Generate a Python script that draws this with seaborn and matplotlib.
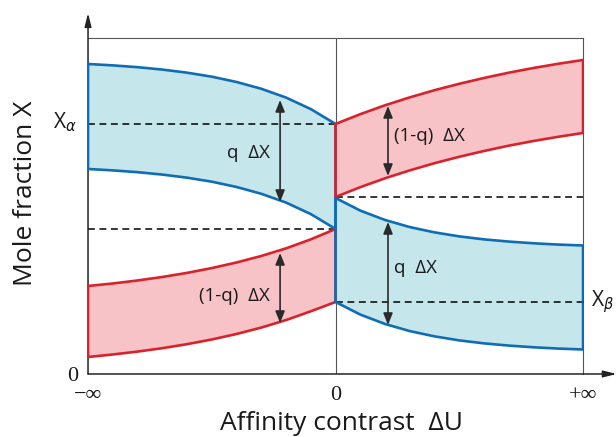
"""
Schematic of the two-phase mole fraction bands versus affinity contrast.
"""

import matplotlib
matplotlib.use("Agg")
import matplotlib.pyplot as plt
import numpy as np
import seaborn as sns

# --- data (y in arbitrary units, 0 at the axis) ---
x_left = [-1.0, -0.9, -0.8, -0.7, -0.6, -0.5, -0.4, -0.3, -0.2, -0.1, 0.0]
x_right = [0.0, 0.1, 0.2, 0.3, 0.4, 0.5, 0.6, 0.7, 0.8, 0.9, 1.0]

left_blue_top = [310, 308.6, 306.8, 304.4, 301.3, 297.3, 292.0, 285.2, 276.4, 264.9, 250]
left_blue_bottom = [205, 203.6, 201.8, 199.4, 196.3, 192.3, 187.0, 180.2, 171.4, 159.9, 145]
left_red_top = [88, 90.5, 93.5, 97.0, 101.1, 105.9, 111.5, 118.0, 125.6, 134.6, 145]
left_red_bottom = [17, 19.5, 22.4, 25.8, 29.8, 34.5, 40.0, 46.4, 53.9, 62.7, 72]

right_red_top = [250, 259.8, 268.7, 276.6, 283.8, 290.2, 296.0, 301.3, 306.0, 310.2, 314]
right_red_bottom = [177, 186.8, 195.7, 203.6, 210.8, 217.2, 223.0, 228.3, 233.0, 237.2, 241]
right_blue_top = [176, 163.4, 154.0, 146.9, 141.6, 137.6, 134.6, 132.4, 130.7, 129.4, 128.5]
right_blue_bottom = [72, 59.4, 50.0, 42.9, 37.6, 33.6, 30.6, 28.4, 26.7, 25.4, 24.5]

x_alpha = 250
x_beta = 72
left_mid = 145
right_mid = 177

# arrows: (x, y_from, y_to, label, side, label_y)
arrows = [
    (-0.224, 274, 172, "q  \u0394X", "left", 221),
    (-0.224, 121, 51, "(1-q)  \u0394X", "left", 78),
    (0.212, 268, 198, "(1-q)  \u0394X", "right", 238),
    (0.212, 152, 49, "q  \u0394X", "right", 106),
]

xtick_pos = [-1, 0, 1]
xtick_labels = ["\u2212\u221e", "0", "+\u221e"]

BLUE_EDGE = "#0f6db5"
BLUE_FILL = "#c5e6eb"
RED_EDGE = "#d8232c"
RED_FILL = "#f8c3c6"
SANS = ["Open Sans", "DejaVu Sans"]
SERIF = ["Liberation Serif", "DejaVu Serif"]

sns.set_theme(style="white")
plt.rcParams["font.family"] = SANS

fig = plt.figure(figsize=(6.16, 4.37), dpi=100)
ax = fig.add_axes([0.1429, 0.1442, 0.8036, 0.7689])
ax.set_xlim(-1, 1)
ax.set_ylim(0, 336)


def draw_band(x, top, bottom, edge, fill):
    x = np.asarray(x, dtype=float)
    xs = np.concatenate([x, x[::-1], x[:1]])
    ys = np.concatenate([top, bottom[::-1], top[:1]])
    ax.fill(xs, ys, color=fill, lw=0, zorder=2)
    sns.lineplot(x=xs, y=ys, sort=False, estimator=None, ax=ax, color=edge,
                 lw=1.9, zorder=4, solid_joinstyle="miter")


ax.axvline(0, color="#555555", lw=0.8, zorder=1)

draw_band(x_left, left_blue_top, left_blue_bottom, BLUE_EDGE, BLUE_FILL)
draw_band(x_left, left_red_top, left_red_bottom, RED_EDGE, RED_FILL)
draw_band(x_right, right_red_top, right_red_bottom, RED_EDGE, RED_FILL)
draw_band(x_right, right_blue_top, right_blue_bottom, BLUE_EDGE, BLUE_FILL)

dash = (0, (4.5, 3))
ax.plot([-1, 0], [x_alpha, x_alpha], color="black", lw=1.1, ls=dash, zorder=3)
ax.plot([-1, 0], [left_mid, left_mid], color="black", lw=1.1, ls=dash, zorder=3)
ax.plot([0, 1], [right_mid, right_mid], color="black", lw=1.1, ls=dash, zorder=3)
ax.plot([0, 1.016], [x_beta, x_beta], color="black", lw=1.1, ls=dash,
        zorder=3, clip_on=False)

for x, y0, y1, label, side, ty in arrows:
    ax.annotate("", xy=(x, y1), xytext=(x, y0),
                arrowprops=dict(arrowstyle="<|-|>,head_length=0.35,head_width=0.14",
                                mutation_scale=20, color="#2a2a2a", lw=1.2,
                                shrinkA=0, shrinkB=0), zorder=5)
    if side == "left":
        ax.text(x - 0.041, ty, label, ha="right", va="center", fontsize=13.5,
                color="#1a1a1a", zorder=6)
    else:
        ax.text(x + 0.024, ty, label, ha="left", va="center", fontsize=13.5,
                color="#1a1a1a", zorder=6)

ax.text(-1.044, x_alpha + 2, r"X$_{\alpha}$", ha="right", va="center",
        fontsize=15, color="#1a1a1a")
ax.text(1.032, x_beta, r"X$_{\beta}$", ha="left", va="center",
        fontsize=15, color="#1a1a1a")

# frame: thin grey top/right, arrowed left/bottom axes
for side in ["top", "right"]:
    ax.spines[side].set_color("#555555")
    ax.spines[side].set_linewidth(0.8)
for side in ["left", "bottom"]:
    ax.spines[side].set_visible(False)

arrow_style = dict(arrowstyle="-|>,head_length=0.4,head_width=0.1",
                   mutation_scale=20, color="#222222", lw=1.1,
                   shrinkA=0, shrinkB=0)
ax.annotate("", xy=(0, 1.074), xytext=(0, 0), xycoords="axes fraction",
            textcoords="axes fraction", arrowprops=arrow_style,
            annotation_clip=False)
ax.annotate("", xy=(1.068, 0), xytext=(0, 0), xycoords="axes fraction",
            textcoords="axes fraction", arrowprops=arrow_style,
            annotation_clip=False)

ax.set_xticks(xtick_pos)
ax.set_xticklabels(xtick_labels, fontsize=16, family=SERIF, color="#1a1a1a")
ax.set_yticks([0])
ax.set_yticklabels(["0"], fontsize=16, family=SERIF, color="#1a1a1a")
ax.tick_params(axis="x", length=0, pad=9)
ax.tick_params(axis="y", length=0, pad=7)

fig.text(342 / 616, 7 / 437, "Affinity contrast  \u0394U", ha="center",
         va="baseline", fontsize=19, color="#1a1a1a")
fig.text(26 / 616, 1 - 193 / 437, "Mole fraction X", ha="center", va="center",
         rotation=90, fontsize=19, color="#1a1a1a")

fig.savefig("out.png", dpi=100)
